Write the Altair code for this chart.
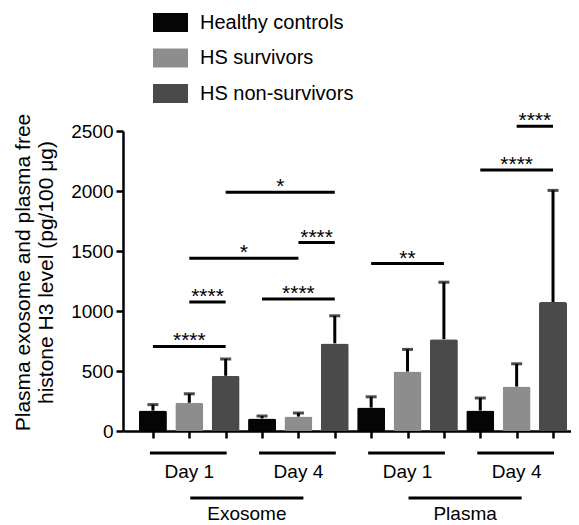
import altair as alt
import pandas as pd

FONT = "Liberation Sans"

groups = ["Healthy controls", "HS survivors", "HS non-survivors"]
samples = ["Exosome", "Plasma"]
days = ["Day 1", "Day 4"]
colors = ["#050505", "#8d8d8d", "#4a4a4a"]

# bar order: sample -> day -> group
means = [170, 235, 460, 105, 120, 730, 195, 495, 765, 170, 370, 1075]
uppers = [220, 310, 600, 125, 150, 960, 285, 680, 1240, 275, 560, 2005]

# significance brackets (bar index from, bar index to, height, label)
sig_start = [0, 1, 1, 2, 4, 3, 6, 9, 10]
sig_end = [2, 2, 4, 5, 5, 5, 8, 11, 11]
sig_level = [705, 1075, 1440, 1990, 1570, 1100, 1395, 2175, 2540]
sig_label = ["****", "****", "*", "*", "****", "****", "**", "****", "****"]

y_ticks = [0, 500, 1000, 1500, 2000, 2500]

rows = []
i = 0
for s in samples:
    for d in days:
        for g in groups:
            rows.append({"pos": i, "sample": s, "day": d, "group": g,
                         "mean": means[i], "upper": uppers[i]})
            i += 1
bars_df = pd.DataFrame(rows)

sig_df = pd.DataFrame({"start": sig_start, "end": sig_end,
                       "level": sig_level, "label": sig_label})
sig_df["mid"] = (sig_df["start"] + sig_df["end"]) / 2

day_df = bars_df.groupby(["sample", "day"], as_index=False).agg(
    first=("pos", "min"), last=("pos", "max"))
day_df["mid"] = (day_df["first"] + day_df["last"]) / 2

sample_df = day_df.groupby("sample", as_index=False).agg(
    first=("mid", "min"), last=("mid", "max"))
sample_df["mid"] = (sample_df["first"] + sample_df["last"]) / 2

xscale = alt.Scale(domain=[-0.6855, 11.357], nice=False, zero=False)
yscale = alt.Scale(domain=[0, 2500], nice=False)

xaxis = alt.Axis(values=list(range(12)), labels=False, title=None, grid=False,
                 domainColor="black", domainWidth=2.5, tickColor="black",
                 tickWidth=2.5, tickSize=7)
yaxis = alt.Axis(values=y_ticks, format="d", grid=False, domainColor="black",
                 domainWidth=2.5, tickColor="black", tickWidth=2.5, tickSize=7,
                 labelPadding=3, labelFont=FONT, labelFontSize=19, labelColor="black",
                 title=["Plasma exosome and plasma free", "histone H3 level (pg/100 μg)"],
                 titleFont=FONT, titleFontSize=21, titleFontWeight="normal",
                 titleColor="black", titlePadding=14, titleLineHeight=23, titleY=141)

legend = alt.Legend(title=None, orient="none", legendX=30, legendY=-126,
                    symbolType="M-1,-0.54L1,-0.54L1,0.54L-1,0.54Z",
                    symbolSize=1225, symbolStrokeWidth=0, labelFont=FONT,
                    labelFontSize=20, labelColor="black", labelOffset=12,
                    rowPadding=7.5, padding=0)

base = alt.Chart(bars_df)
bars = base.mark_bar(size=28, cornerRadiusTopLeft=2, cornerRadiusTopRight=2).encode(
    x=alt.X("pos:Q", scale=xscale, axis=xaxis),
    y=alt.Y("mean:Q", scale=yscale, axis=yaxis),
    color=alt.Color("group:N", scale=alt.Scale(domain=groups, range=colors), legend=legend),
)
err = base.mark_rule(strokeWidth=3, color="black").encode(
    x="pos:Q", y="mean:Q", y2="upper:Q")
cap = base.mark_tick(orient="horizontal", size=11, thickness=3, color="black").encode(
    x="pos:Q", y="upper:Q")

sig_rules = alt.Chart(sig_df).mark_rule(strokeWidth=3, color="black").encode(
    x="start:Q", x2="end:Q", y="level:Q")
sig_text = alt.Chart(sig_df).mark_text(font=FONT, fontSize=21, dy=1, color="black",
                                       baseline="alphabetic").encode(
    x="mid:Q", y="level:Q", text="label:N")

day_rules = alt.Chart(day_df).mark_rule(strokeWidth=3, color="black",
                                        xOffset=-3, x2Offset=1).encode(
    x="first:Q", x2="last:Q", y=alt.value(322))
day_text = alt.Chart(day_df).mark_text(font=FONT, fontSize=19, color="black",
                                       baseline="alphabetic").encode(
    x="mid:Q", y=alt.value(347), text="day:N")

sample_rules = alt.Chart(sample_df).mark_rule(strokeWidth=3, color="black",
                                              xOffset=1, x2Offset=5).encode(
    x="first:Q", x2="last:Q", y=alt.value(367))
sample_text = alt.Chart(sample_df).mark_text(font=FONT, fontSize=19, color="black",
                                             baseline="alphabetic", dx=3).encode(
    x="mid:Q", y=alt.value(389), text="sample:N")

chart = alt.layer(bars, err, cap, sig_rules, sig_text, day_rules, day_text,
                  sample_rules, sample_text).properties(
    width=448, height=300,
    padding={"left": 115, "top": 123, "right": 0, "bottom": 94},
    autosize=alt.AutoSizeParams(type="none"),
).configure_view(stroke=None)

chart.save("out.html", embed_options={"renderer": "svg", "actions": False})
